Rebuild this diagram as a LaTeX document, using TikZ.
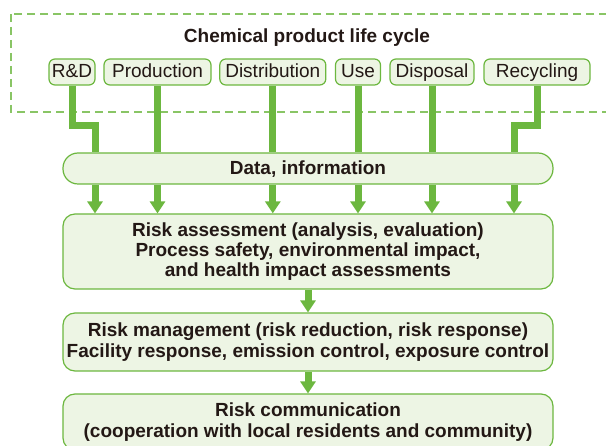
\documentclass[tikz,border=0pt]{standalone}
\usepackage{fontspec}
\setmainfont{Liberation Sans}
\usepackage{tikz}
\usetikzlibrary{arrows.meta,calc,positioning}
\definecolor{leaf}{RGB}{108,183,63}
\definecolor{pale}{RGB}{237,245,228}
\definecolor{ink}{RGB}{35,24,21}

\begin{document}
\begin{tikzpicture}[x=1pt, y=-1pt, text=ink,
  stage/.style={draw=leaf, fill=pale, line width=1.2pt, rounded corners=6pt,
    minimum height=26pt, inner sep=0pt, text height=15pt, text depth=3pt,
    font=\fontsize{19}{21}\selectfont},
  panel/.style={draw=leaf, fill=pale, line width=1.2pt, rounded corners=12pt,
    minimum width=490pt, inner sep=0pt, align=center,
    execute at begin node={\rule{0pt}{15.5pt}},
    font=\bfseries\fontsize{19}{20.3}\selectfont},
  feed/.style={leaf, line width=7pt},
  push/.style={leaf, line width=7pt, -{Triangle[width=15pt,length=12pt]}},
  frame/.style={leaf!80, line width=1.3pt, dash pattern=on 8pt off 5pt}]
    \clip (0,0) rectangle (606,446);
    \draw[frame] (11,14) rectangle (640,112);
    \node (TITLE) at (307,37.5) {\bfseries\fontsize{19}{21}\selectfont Chemical product life cycle};
    \node[stage, minimum width=46pt]  (RD)   at (72,72)    {R\&D};
    \node[stage, minimum width=107pt] (PROD) at (157.5,72) {Production};
    \node[stage, minimum width=106pt] (DIST) at (272.8,72) {Distribution};
    \node[stage, minimum width=45pt]  (USE)  at (358,72)   {Use};
    \node[stage, minimum width=84pt]  (DISP) at (432,72)   {Disposal};
    \node[stage, minimum width=106pt] (REC)  at (537,72)   {Recycling};
    \coordinate (RDX)  at (95,126);
    \coordinate (RECX) at (514,126);
    \node[panel, minimum height=31pt, rounded corners=15pt] (DATA) at (308,168.5) {Data, information};
    \node[panel, minimum height=75pt] (RISK) at (308,251.5)
      {Risk assessment (analysis, evaluation)\\Process safety, environmental impact,\\and health impact assessments};
    \node[panel, minimum height=58pt] (MGMT) at (308,342)
      {Risk management (risk reduction, risk response)\\Facility response, emission control, exposure control};
    \node[panel, minimum height=56pt] (COMM) at (308,422)
      {Risk communication\\(cooperation with local residents and community)};
    % life cycle stages feed the data
    \draw[feed] (RD.south) |- (RDX) -- (RDX |- DATA.north);
    \draw[feed] (REC.south) |- (RECX) -- (RECX |- DATA.north);
    \foreach \n in {PROD,DIST,USE,DISP}
      \draw[feed] (\n.south) -- (\n.south |- DATA.north);
    \foreach \n in {RDX,PROD,DIST,USE,DISP,RECX}
      \draw[push] (\n |- DATA.south) -- (\n |- RISK.north);
    \draw[push] (RISK.south) -- (MGMT.north);
    \draw[push] (MGMT.south) -- (COMM.north);
\end{tikzpicture}
\end{document}
